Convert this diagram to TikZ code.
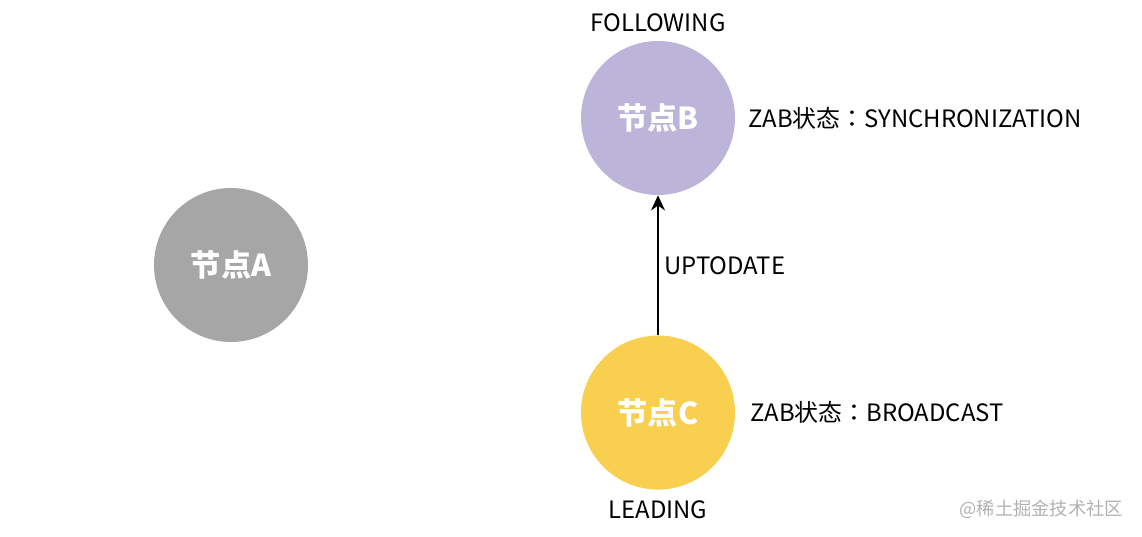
\documentclass[tikz,border=0pt]{standalone}
\usepackage{fontspec}
\setmainfont{Noto Sans CJK TC}
\usepackage{tikz}
\usetikzlibrary{positioning,arrows.meta}
\usepackage{xcolor}

\definecolor{nodegray}{HTML}{A6A6A6}
\definecolor{nodepurple}{HTML}{BDB4D9}
\definecolor{nodeyellow}{HTML}{F8CF4E}

\begin{document}
\begin{tikzpicture}[
    node distance=3.5cm,
    peer/.style={circle, minimum size=3.85cm, inner sep=0pt, text=white, font=\fontsize{21.5}{26}\selectfont\bfseries},
    role/.style={font=\fontsize{17}{20}\selectfont, inner sep=2pt},
    arrow/.style={-{Stealth[length=3.8mm, width=3.5mm]}, line width=1.3pt}
]
\useasboundingbox (0,0) rectangle (28.55,13.425);

\node[peer, fill=nodegray] (a) at (5.775,6.8) {节点A};
\node[peer, fill=nodepurple] (b) at (16.45,10.475) {节点B};
\node[peer, fill=nodeyellow, below=of b] (c) {节点C};

\node[role, above=0.15cm of b] (follow) {FOLLOWING};
\node[role, below=0.2cm of c] (lead) {LEADING};
\node[role, right=0.25cm of b] (bstate) {ZAB状态：SYNCHRONIZATION};
\node[role, right=0.3cm of c] (cstate) {ZAB状态：BROADCAST};

\draw[arrow] (c) -- node[role, right=2pt] {UPTODATE} (b);

\node[font=\fontsize{13}{15}\selectfont, text=gray!60, anchor=east] (mark) at (28.2,0.68) {@稀土掘金技术社区};

\end{tikzpicture}
\end{document}
